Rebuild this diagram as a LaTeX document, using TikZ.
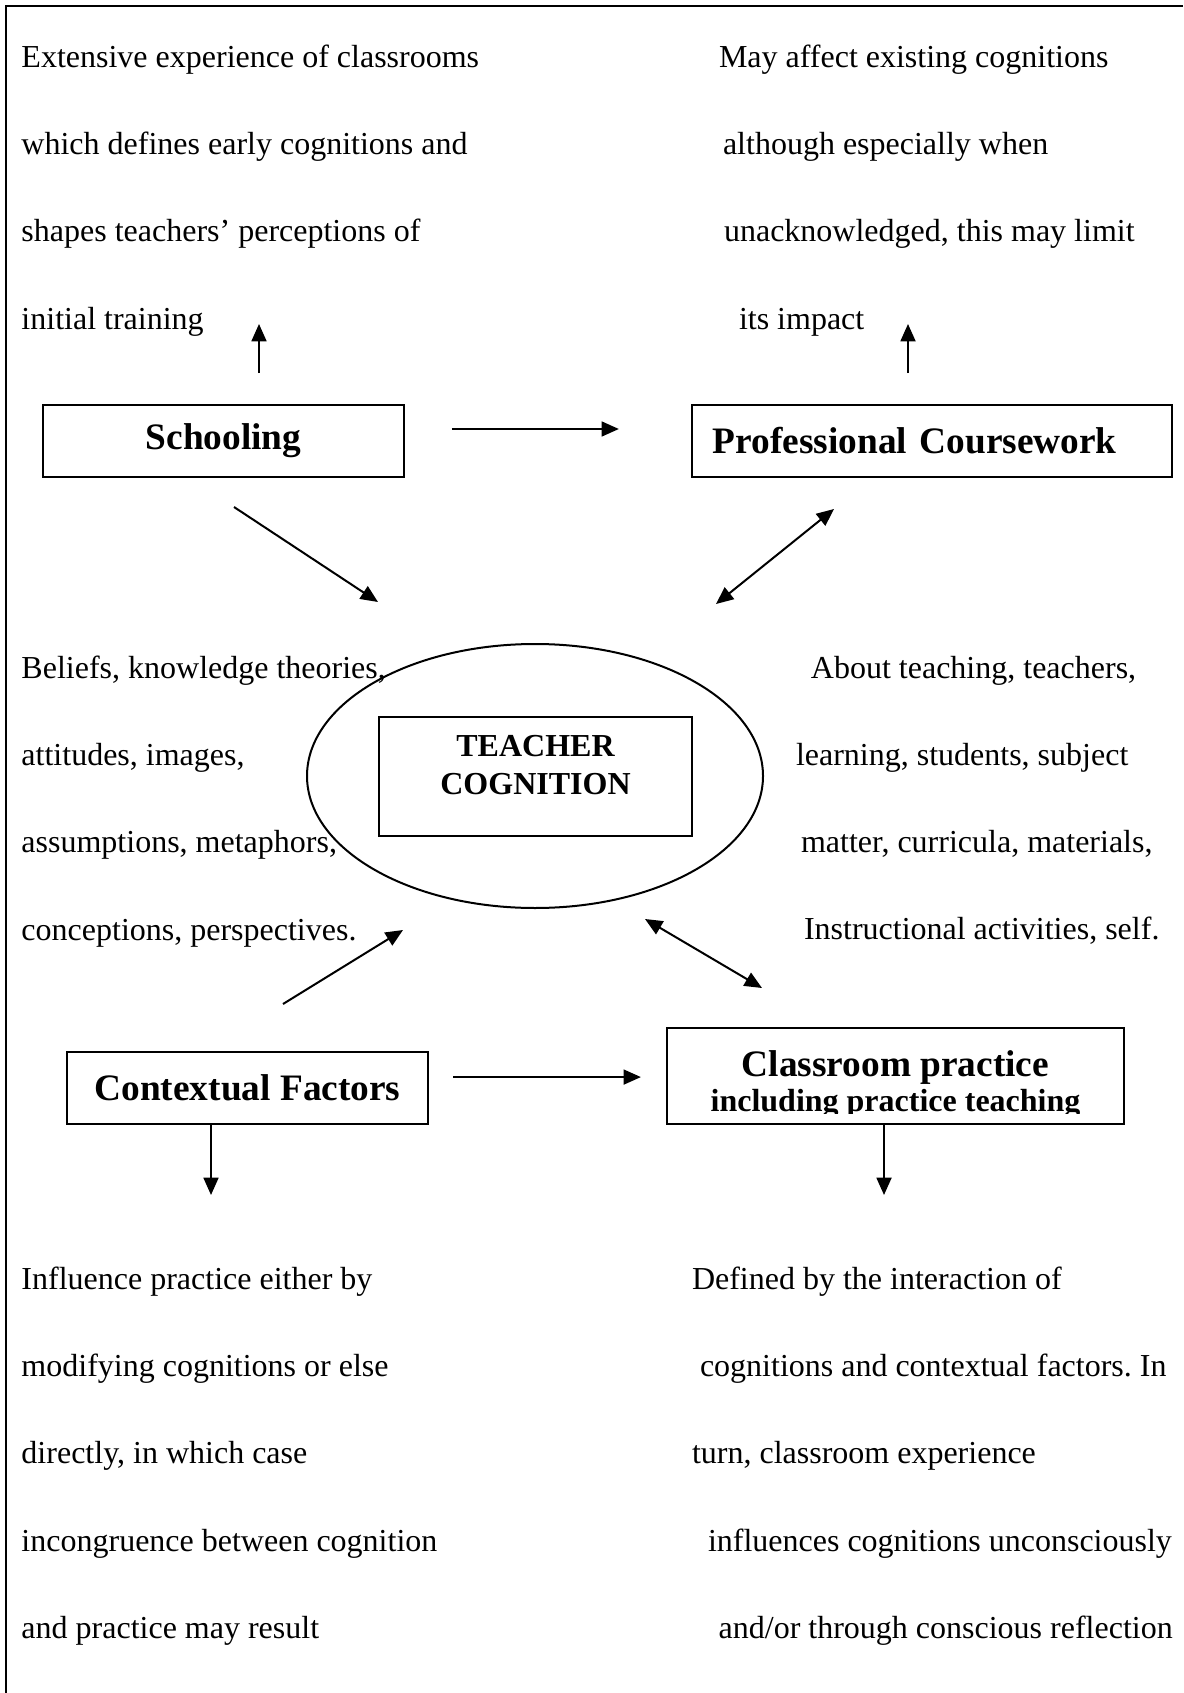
\documentclass[tikz,border=0pt]{standalone}
\usepackage{fontspec}
\setmainfont{Liberation Serif}
\frenchspacing
\usetikzlibrary{shapes.geometric, arrows.meta, positioning}
\tikzset{
	box/.style={draw, rectangle, inner sep=0pt, font=\bfseries\fontsize{14}{16}\selectfont}, % the four source boxes
	note/.style={anchor=north west, inner sep=0pt, align=left, font=\fontsize{12}{32.7}\selectfont}, % double spaced text blocks
	bold/.style={anchor=north, inner sep=0pt, align=center},
}

\begin{document}
\begin{tikzpicture}[x=0.375pt, y=-0.375pt, line width=0.75pt, >={Triangle[length=6.5pt, width=5.6pt]}]
	\useasboundingbox (0,0) rectangle (1183,1693);
	% frame, only left and top are drawn
	\draw (6,1693) -- (6,6) -- (1183,6);

	% sources
	\node[box, minimum width=135.4pt, minimum height=27pt] (school) at (223.5,441) {Schooling};
	\node[box, minimum height=27pt, text width=164.3pt, inner xsep=7.9pt, align=left] (course) at (932,441) {Professional Coursework};
	\node[box, minimum width=135.4pt, minimum height=27pt] (context) at (247.5,1088) {Contextual Factors};
	\node[box, minimum width=171.4pt, minimum height=36pt] (practice) at (895.5,1076) {};
	\begin{scope}
		\clip (practice.north west) rectangle ([yshift=4.5pt]practice.south east); % bottom of the text is cut off
		\node[bold, font=\bfseries\fontsize{12}{13}\selectfont] (practicetext) at (895.5,1049.5) {{\fontsize{14}{13}\selectfont Classroom practice}\\including practice teaching};
	\end{scope}

	% centre
	\node[ellipse, draw, minimum width=171pt, minimum height=99pt, inner sep=0pt] (cog) at (535,776) {};
	\node[draw, rectangle, minimum width=117.4pt, minimum height=44.6pt, inner sep=0pt] (cogbox) at (535.5,776.5) {};
	\node[bold, font=\bfseries\fontsize{12}{14.25}\selectfont] (cogtext) at (535.5,734) {TEACHER\\COGNITION};

	% text blocks
	\node[note] (schoolnote) at (20.5,44) {Extensive experience of classrooms\\which defines early cognitions and\\shapes teachers’ perceptions of\\initial training};
	\node[note] (coursenote) at (718,44) {May affect existing cognitions\\\hspace*{1.5pt}although especially when\\\hspace*{1.9pt}unacknowledged, this may limit\\\hspace*{7.5pt}its impact};
	\node[note] (beliefs) at (20.5,655) {Beliefs, knowledge theories,\\attitudes, images,\\assumptions, metaphors,\\conceptions, perspectives.};
	\node[note] (about) at (795,655) {\hspace*{5.6pt}About teaching, teachers,\\learning, students, subject\\\hspace*{1.9pt}matter, curricula, materials,\\\hspace*{3pt}Instructional activities, self.};
	\node[note] (contextnote) at (20.5,1266) {Influence practice either by\\modifying cognitions or else\\directly, in which case\\incongruence between cognition\\and practice may result};
	\node[note] (practicenote) at (691,1266) {Defined by the interaction of\\\hspace*{3pt}cognitions and contextual factors. In\\turn, classroom experience\\\hspace*{6pt}influences cognitions unconsciously\\\hspace*{10pt}and/or through conscious reflection};

	% arrow ends
	\coordinate (schoolup) at (259,324);
	\coordinate (courseup) at (908,324);
	\coordinate (contextdown) at (211,1195);
	\coordinate (practicedown) at (884,1195);
	\coordinate (a1) at (234,507); \coordinate (a2) at (378,602);
	\coordinate (b1) at (834,509); \coordinate (b2) at (716,604);
	\coordinate (c1) at (283,1004); \coordinate (c2) at (403,930);
	\coordinate (d1) at (645,919); \coordinate (d2) at (762,988);

	\draw[->, shorten <=11.6pt] (school.north -| schoolup) -- (schoolup);
	\draw[->, shorten <=11.6pt] (course.north -| courseup) -- (courseup);
	\draw[->, shorten <=17.6pt, shorten >=27pt] ([yshift=4.5pt]school.east) -- ([yshift=4.5pt]school.east -| course.west);
	\draw[->] (a1) -- (a2);
	\draw[<->] (b1) -- (b2);
	\draw[->] (c1) -- (c2);
	\draw[<->] (d1) -- (d2);
	\draw[->, shorten <=9pt, shorten >=9.4pt] ([yshift=4.1pt]context.east) -- ([yshift=4.1pt]context.east -| practice.west);
	\draw[->] (context.south -| contextdown) -- (contextdown);
	\draw[->] (practice.south -| practicedown) -- (practicedown);
\end{tikzpicture}
\end{document}
